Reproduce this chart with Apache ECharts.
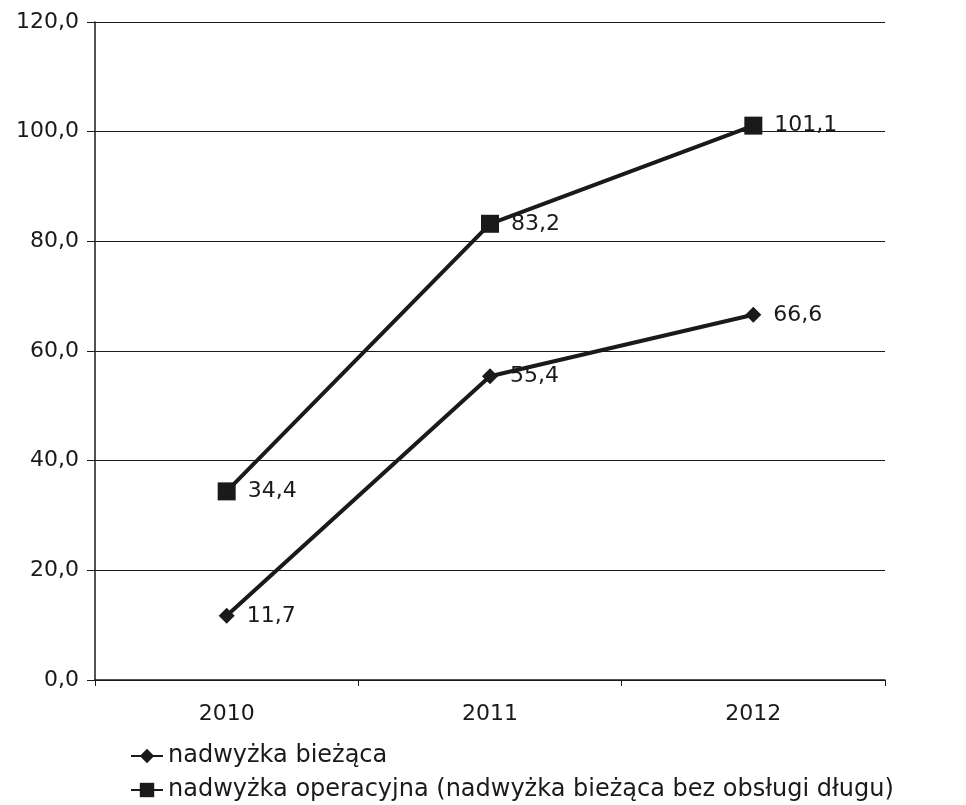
<!DOCTYPE html>
<html>
<head>
<meta charset="utf-8">
<script src="https://cdn.jsdelivr.net/npm/echarts@6/dist/echarts.min.js"></script>
<style>
  html, body { margin: 0; padding: 0; background: #fff; }
  #chart { width: 966px; height: 805px; }
</style>
</head>
<body>
<div id="chart"></div>
<script>
const years = ['2010', '2011', '2012']
const biezaca = [11.7, 55.4, 66.6]
const operacyjna = [34.4, 83.2, 101.1]
const seriesNames = ['nadwyżka bieżąca', 'nadwyżka operacyjna (nadwyżka bieżąca bez obsługi długu)']

const font = '"DejaVu Sans", sans-serif'
const fmt = v => v.toFixed(1).replace('.', ',')

const chart = echarts.init(document.getElementById('chart'))

function lineSeries(name, data, symbol, size) {
  return {
    name: name,
    type: 'line',
    data: data,
    symbol: symbol,
    symbolSize: size,
    lineStyle: { color: '#1a1a1a', width: 4 },
    itemStyle: { color: '#1a1a1a' },
    label: {
      show: true,
      position: 'right',
      distance: 12,
      color: '#1a1a1a',
      fontFamily: font,
      fontSize: 22,
      formatter: p => fmt(p.value)
    }
  }
}

chart.setOption({
  animation: false,
  backgroundColor: '#fff',
  grid: { left: 95, right: 81, top: 22, bottom: 125 },
  legend: {
    orient: 'vertical',
    left: 130,
    top: 744,
    height: 100,
    padding: 0,
    itemGap: 10,
    itemWidth: 32,
    itemHeight: 18,
    textStyle: { color: '#1a1a1a', fontFamily: font, fontSize: 24 },
    data: seriesNames
  },
  xAxis: {
    type: 'category',
    data: years,
    boundaryGap: true,
    axisLine: { lineStyle: { color: '#1a1a1a', width: 1.5 } },
    axisTick: { show: true, length: 6, lineStyle: { color: '#1a1a1a' } },
    axisLabel: { color: '#1a1a1a', fontFamily: font, fontSize: 22, margin: 23 }
  },
  yAxis: {
    type: 'value',
    min: 0,
    max: 120,
    interval: 20,
    axisLine: { show: true, lineStyle: { color: '#1a1a1a', width: 1.5 } },
    axisTick: { show: true, length: 8, lineStyle: { color: '#1a1a1a' } },
    axisLabel: { color: '#1a1a1a', fontFamily: font, fontSize: 22, margin: 16, formatter: v => fmt(v) },
    splitLine: { lineStyle: { color: '#1a1a1a', width: 1.2 } }
  },
  series: [
    lineSeries(seriesNames[0], biezaca, 'diamond', 16),
    lineSeries(seriesNames[1], operacyjna, 'rect', 18)
  ]
})
</script>
</body>
</html>
